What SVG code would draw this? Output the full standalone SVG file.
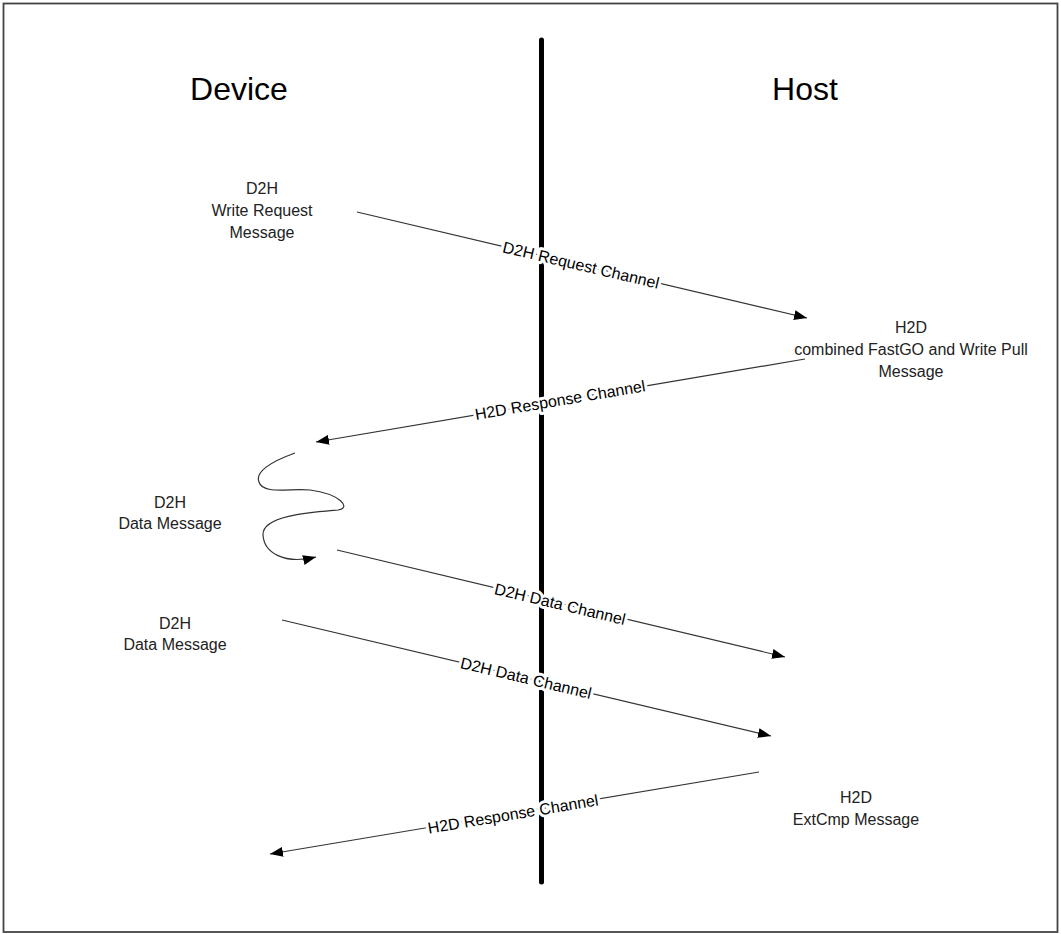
<svg xmlns="http://www.w3.org/2000/svg" width="1061" height="934" viewBox="0 0 1061 934">
  <defs>
    <marker id="arrow" markerUnits="userSpaceOnUse" markerWidth="14" markerHeight="10" refX="13" refY="5" orient="auto">
      <path d="M0,0 L13,5 L0,10 z" fill="#000"/>
    </marker>
    <style>
      .title { font-family: "Liberation Sans", Arial, sans-serif; font-size: 32px; fill: #000; text-anchor: middle; }
      .msg { font-family: "Liberation Sans", Arial, sans-serif; font-size: 16px; fill: #222; text-anchor: middle; }
      .lbl { font-family: "Liberation Sans", Arial, sans-serif; font-size: 16px; fill: #000; text-anchor: middle; paint-order: stroke; stroke: #fff; stroke-width: 6px; stroke-linejoin: round; }
      .conn { fill: none; stroke: #333; stroke-width: 1.2; marker-end: url(#arrow); }
    </style>
  </defs>
  <rect x="0" y="0" width="1061" height="934" fill="#fff"/>
  <rect x="3.5" y="3.5" width="1054" height="928.5" fill="none" stroke="#444" stroke-width="1.8"/>

  <g id="lifeline">
    <line x1="541.5" y1="40" x2="541.5" y2="882" stroke="#000" stroke-width="5" stroke-linecap="round"/>
  </g>

  <g id="device-title"><text class="title" x="239" y="100">Device</text></g>
  <g id="host-title"><text class="title" x="805" y="100">Host</text></g>

  <g id="d2h-write-request">
    <text class="msg" x="262" y="194">D2H</text>
    <text class="msg" x="262" y="216">Write Request</text>
    <text class="msg" x="262" y="238">Message</text>
  </g>
  <g id="h2d-fastgo">
    <text class="msg" x="911" y="333">H2D</text>
    <text class="msg" x="911" y="355">combined FastGO and Write Pull</text>
    <text class="msg" x="911" y="377">Message</text>
  </g>
  <g id="d2h-data-1">
    <text class="msg" x="170" y="508">D2H</text>
    <text class="msg" x="170" y="529">Data Message</text>
  </g>
  <g id="d2h-data-2">
    <text class="msg" x="175" y="629">D2H</text>
    <text class="msg" x="175" y="650">Data Message</text>
  </g>
  <g id="h2d-extcmp">
    <text class="msg" x="856" y="803">H2D</text>
    <text class="msg" x="856" y="825">ExtCmp Message</text>
  </g>

  <g id="connectors">
    <line class="conn" x1="357" y1="212" x2="807" y2="318"/>
    <line class="conn" x1="805" y1="359" x2="316" y2="442"/>
    <path class="conn" d="M295,453 C270,462 255,472 259,482 C263,495 290,488 310,490 C340,494 352,508 338,510 C315,512 262,515 263,535 C264,552 283,565 316,557"/>
    <line class="conn" x1="337" y1="550" x2="785" y2="657"/>
    <line class="conn" x1="282" y1="620" x2="771" y2="736"/>
    <line class="conn" x1="759" y1="772" x2="270" y2="854"/>

    <text class="lbl" transform="translate(581,265) rotate(13.2)" dy="0.35em">D2H Request Channel</text>
    <text class="lbl" transform="translate(560,400) rotate(-9.6)" dy="0.35em">H2D Response Channel</text>
    <text class="lbl" transform="translate(560,604) rotate(13.4)" dy="0.35em">D2H Data Channel</text>
    <text class="lbl" transform="translate(526,678) rotate(13.4)" dy="0.35em">D2H Data Channel</text>
    <text class="lbl" transform="translate(513,814) rotate(-9.5)" dy="0.35em">H2D Response Channel</text>
  </g>
</svg>
